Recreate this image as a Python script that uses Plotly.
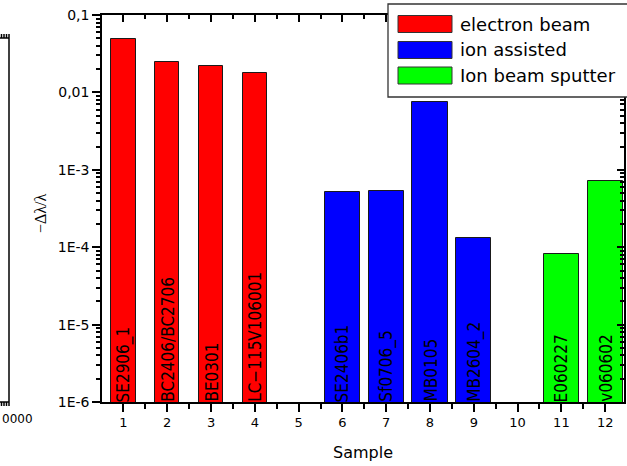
import plotly.graph_objects as go

# Figure size in pixels
W, H = 627, 466

# ---- data -------------------------------------------------------------
series_names = ["electron beam", "ion assisted", "Ion beam sputter"]
series_colors = ["#FF0000", "#0000FF", "#00FF00"]

eb_samples = [1, 2, 3, 4]
eb_values = [0.0486, 0.0249, 0.0222, 0.0180]
eb_labels = ["SE2906_1", "BC2406/BC2706", "BE0301", "LC\u2212115V106001"]

ia_samples = [6, 7, 8, 9]
ia_values = [5.15e-4, 5.36e-4, 7.6e-3, 1.31e-4]
ia_labels = ["SE2406b1", "Sf0706_5", "MB0105", "MB2604_2"]

ibs_samples = [11, 12]
ibs_values = [8.2e-5, 7.1e-4]
ibs_labels = ["E060227", "v060602"]

x_ticks = list(range(1, 13))
y_tickvals = [1e-6, 1e-5, 1e-4, 1e-3, 1e-2, 1e-1]
y_ticktext = ["1E-6", "1E-5", "1E-4", "1E-3", "0,01", "0,1"]

# ---- helpers: pixel -> paper coordinates ------------------------------
def px(x):
    return x / W


def py(y):
    return 1 - y / H


# plot area in pixels
PL, PR, PT, PB = 102, 624, 15, 402

TICK_FONT = dict(family="DejaVu Sans, Arial, sans-serif", size=13, color="black")
LABEL_FONT = dict(family="DejaVu Sans Condensed, Liberation Sans Narrow, Arial, sans-serif",
                  size=17, color="black")

fig = go.Figure()

groups = [
    (eb_samples, eb_values, eb_labels, 0.55),
    (ia_samples, ia_values, ia_labels, 0.80),
    (ibs_samples, ibs_values, ibs_labels, 0.80),
]

for (xs, ys, labs, w), name, col in zip(groups, series_names, series_colors):
    fig.add_trace(go.Bar(
        x=xs, y=ys, name=name, width=w,
        marker=dict(color=col, line=dict(color="#1a1a1a", width=1)),
        showlegend=False,
    ))
    for xv, lab in zip(xs, labs):
        fig.add_annotation(
            x=xv, y=-6, xref="x", yref="y",
            text=lab, textangle=-90, showarrow=False,
            xanchor="center", yanchor="bottom", yshift=-2,
            font=LABEL_FONT,
        )

# empty traces so that the overlaid frame axes get drawn
for xa, ya in [("x2", "y"), ("x", "y2"), ("x", "y4"), ("x", "y5")]:
    fig.add_trace(go.Scatter(x=[], y=[], xaxis=xa, yaxis=ya,
                             showlegend=False, hoverinfo="skip"))

x_range = [0.51, 12.43]
y_range = [-6, -1]
minor_y = [k * 10.0 ** e for e in range(-6, -1) for k in range(2, 10)]
minor_x = [k + 0.5 for k in range(0, 13)]

AX = dict(showline=True, linewidth=1.5, linecolor="black", showgrid=False, zeroline=False)
TK = dict(tickwidth=1.5, tickcolor="black")


def x_minor(direction, length):
    return dict(tickmode="array", tickvals=minor_x, ticks=direction, ticklen=length, **TK)


def y_overlay(side, direction, length, vals):
    # log axes take their sub-decade ticks from a separate overlaid axis
    return dict(overlaying="y", anchor="x", side=side, type="log", range=y_range,
                tickmode="array", tickvals=vals, ticks=direction, ticklen=length,
                showticklabels=False, **TK, **AX)


fig.update_layout(
    width=W, height=H,
    margin=dict(l=0, r=0, t=0, b=0, autoexpand=False),
    paper_bgcolor="white", plot_bgcolor="white",
    bargap=0,
    # bottom axis, ticks outward
    xaxis=dict(
        domain=[px(PL), px(PR)], anchor="y", range=x_range, mirror=True,
        tickmode="array", tickvals=x_ticks, ticks="outside", ticklen=8,
        minor=x_minor("outside", 5),
        tickfont=TICK_FONT, **TK, **AX,
    ),
    # top axis, ticks inward
    xaxis2=dict(
        overlaying="x", anchor="y", side="top", range=x_range,
        tickmode="array", tickvals=x_ticks, ticks="inside", ticklen=7,
        minor=x_minor("inside", 4), showticklabels=False, **TK, **AX,
    ),
    # left axis with the decade labels, ticks outward
    yaxis=dict(
        domain=[py(PB), py(PT)], anchor="x", type="log", range=y_range, mirror=True,
        tickmode="array", tickvals=y_tickvals, ticktext=y_ticktext,
        ticks="outside", ticklen=8,
        tickfont=dict(TICK_FONT, size=14), **TK, **AX,
    ),
    # right axis, ticks inward
    yaxis2=y_overlay("right", "inside", 7, y_tickvals),
    # sub-decade ticks, left and right
    yaxis4=y_overlay("left", "outside", 4, minor_y),
    yaxis5=y_overlay("right", "inside", 4, minor_y),
)

# frame corner of the neighbouring panel on the left page edge
SIDE = dict(type="line", xref="paper", yref="paper", line=dict(color="black", width=1.5))
fig.add_shape(x0=px(9), x1=px(9), y0=py(402), y1=py(38), **SIDE)
fig.add_shape(x0=0, x1=px(9), y0=py(38), y1=py(38), **SIDE)
fig.add_shape(x0=0, x1=px(9), y0=py(402), y1=py(402), **SIDE)
for xt in [1.5, 4, 6.5, 9]:
    fig.add_shape(x0=px(xt), x1=px(xt), y0=py(38), y1=py(34), **SIDE)
    fig.add_shape(x0=px(xt), x1=px(xt), y0=py(402), y1=py(406), **SIDE)

# visible part of the side panel's tick label
fig.add_annotation(
    x=0, y=py(419), xref="paper", yref="paper",
    text="0000", showarrow=False, xanchor="left", yanchor="middle",
    font=dict(TICK_FONT, size=12),
)

# axis titles
fig.add_annotation(
    x=px(40), y=py(213), xref="paper", yref="paper",
    text="\u2212\u0394\u03bb/\u03bb", textangle=-90, showarrow=False,
    xanchor="center", yanchor="middle",
    font=dict(family="Liberation Serif, Times New Roman, serif", size=16, color="black"),
)
fig.add_annotation(
    x=px(363), y=py(452), xref="paper", yref="paper",
    text="Sample", showarrow=False, xanchor="center", yanchor="middle",
    font=dict(family="DejaVu Sans, Arial, sans-serif", size=16, color="black"),
)

# legend box
fig.add_shape(
    type="rect", xref="paper", yref="paper",
    x0=px(388), x1=px(660), y0=py(97), y1=py(4),
    line=dict(color="#333333", width=1.3), fillcolor="white", layer="above",
)
row_centers = [24, 50, 75.5]
for name, col, yc in zip(series_names, series_colors, row_centers):
    fig.add_shape(
        type="rect", xref="paper", yref="paper",
        x0=px(398), x1=px(452), y0=py(yc + 8.5), y1=py(yc - 8.5),
        line=dict(color="#333333", width=1), fillcolor=col, layer="above",
    )
    fig.add_annotation(
        x=px(458), y=py(yc), xref="paper", yref="paper",
        text=name, showarrow=False, xanchor="left", yanchor="middle",
        font=dict(family="DejaVu Sans, Arial, sans-serif", size=18, color="black"),
    )

fig.write_html("out.html")
